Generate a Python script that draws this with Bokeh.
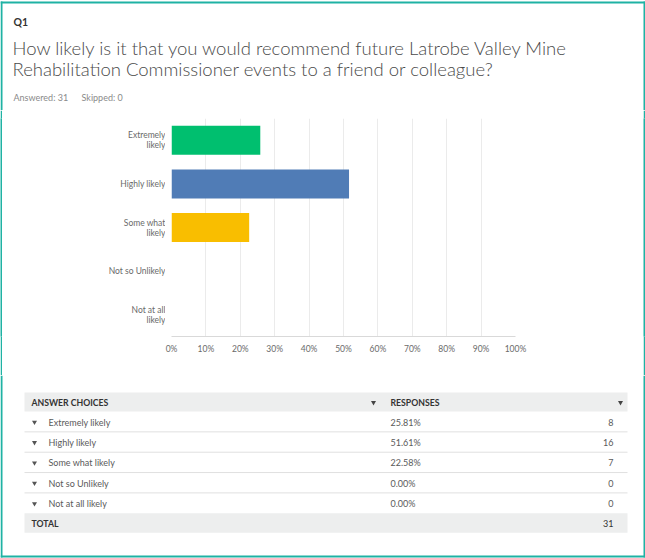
from bokeh.plotting import figure
from bokeh.layouts import column, row
from bokeh.models import (FactorRange, Range1d, FixedTicker, PrintfTickFormatter,
                          ColumnDataSource, Grid)
from bokeh.core.properties import value
from bokeh.embed import file_html
from bokeh.resources import INLINE

# ---------------- data ----------------
question_no = "Q1"
title_lines = ["How likely is it that you would recommend future Latrobe Valley Mine",
               "Rehabilitation Commissioner events to a friend or colleague?"]
answered = 31
skipped = 0
categories = ["Extremely likely", "Highly likely", "Some what likely",
              "Not so Unlikely", "Not at all likely"]
axis_label_lines = [["Extremely", "likely"], ["Highly likely"], ["Some what", "likely"],
                    ["Not so Unlikely"], ["Not at all", "likely"]]
percents = [25.81, 51.61, 22.58, 0.00, 0.00]
counts = [8, 16, 7, 0, 0]
total = 31
bar_colors = ["#00bf6f", "#507cb6", "#f9be00", "#6bc8cd", "#ff8b4f"]
x_ticks = [0, 10, 20, 30, 40, 50, 60, 70, 80, 90, 100]

FONT = "Lato"
TITLE_FONT = "'Lato Light', Lato"
TEAL = "#1fb2a4"


def canvas(w, h, x0, y0):
    """Figure whose data coordinates are page pixels (y downward)."""
    f = figure(width=w, height=h, x_range=Range1d(x0, x0 + w),
               y_range=Range1d(y0 + h, y0), output_backend="svg",
               toolbar_location=None, min_border=0, title=None,
               x_axis_location=None, y_axis_location=None)
    f.outline_line_color = None
    f.grid.visible = False
    f.background_fill_color = "white"
    f.border_fill_color = "white"
    return f


def put_text(f, xs, ys, texts, size, color, align="left", style="normal", font=FONT):
    f.text(x=xs, y=ys, text=texts, text_font=value(font),
           text_font_size=value(f"{size}px"), text_color=color,
           text_align=align, text_baseline="middle", text_font_style=style)


# ---------------- header ----------------
head = canvas(645, 110, 0, 0)
head.quad(left=[0, 643, 0], right=[2, 645, 645], top=[1, 1, 1], bottom=[110, 110, 3],
          color=TEAL, line_color=None)
put_text(head, [13], [21], [question_no], 10.5, "#333333", style="bold")
put_text(head, [12, 12], [47, 68], title_lines, 18.5, "#4a4a4a", font=TITLE_FONT)
put_text(head, [13], [97], [f"Answered: {answered}"], 9, "#8a8a8a")
put_text(head, [81], [97], [f"Skipped: {skipped}"], 9, "#8a8a8a")

# ---------------- chart row ----------------
y_rng = FactorRange(factors=categories[::-1])

chart = figure(width=478, height=265, x_range=Range1d(0, 100), y_range=y_rng,
               output_backend="svg", toolbar_location=None, title=None,
               y_axis_location=None,
               min_border_left=6, min_border_right=128,
               min_border_top=8, min_border_bottom=39)
chart.outline_line_color = None
chart.background_fill_color = "white"
chart.border_fill_color = "white"

src = ColumnDataSource(dict(cat=categories, pct=percents, color=bar_colors))
chart.hbar(y="cat", left=0, right="pct", height=0.665, fill_color="color",
           line_color=None, source=src)

chart.xaxis.ticker = FixedTicker(ticks=x_ticks)
chart.xaxis.formatter = PrintfTickFormatter(format="%d%%")
chart.xaxis.axis_line_color = "#d9d9d9"
chart.xaxis.major_tick_line_color = None
chart.xaxis.minor_tick_line_color = None
chart.xaxis.major_tick_out = 0
chart.xaxis.major_tick_in = 0
chart.xaxis.major_label_standoff = 7
chart.xaxis.major_label_text_font = FONT
chart.xaxis.major_label_text_font_size = "8.5px"
chart.xaxis.major_label_text_color = "#6a6a6a"
chart.xgrid.ticker = FixedTicker(ticks=x_ticks)
chart.xgrid.grid_line_color = "#ebebeb"
chart.ygrid.visible = False
chart.add_layout(Grid(dimension=0, ticker=FixedTicker(ticks=[0]),
                      grid_line_color="#cccccc"))

# category labels, sharing the chart's categorical range
lab = figure(width=163, height=265, x_range=Range1d(2, 165), y_range=y_rng,
             output_backend="svg", toolbar_location=None, title=None,
             x_axis_location=None, y_axis_location=None,
             min_border_left=0, min_border_right=0,
             min_border_top=8, min_border_bottom=39)
lab.outline_line_color = None
lab.grid.visible = False
lab.background_fill_color = "white"
lab.border_fill_color = "white"
lab_y, lab_t, lab_off = [], [], []
for c, lines in zip(categories, axis_label_lines):
    n = len(lines)
    for k, ln in enumerate(lines):
        lab_y.append(c)
        lab_t.append(ln)
        lab_off.append((k - (n - 1) / 2) * 10)
lab.text(x=165, y="y", text="t", y_offset="off",
         source=ColumnDataSource(dict(y=lab_y, t=lab_t, off=lab_off)),
         text_font=value(FONT), text_font_size=value("8.5px"),
         text_color="#6a6a6a", text_align="right", text_baseline="middle")


def strip():
    """2px card-border strip beside the chart (solid teal)."""
    s = figure(width=2, height=265, output_backend="svg", toolbar_location=None,
               title=None, x_axis_location=None, y_axis_location=None,
               min_border=0)
    s.outline_line_color = None
    s.grid.visible = False
    s.background_fill_color = TEAL
    s.border_fill_color = TEAL
    return s


bl = strip()
br = strip()

# ---------------- table ----------------
tbl = canvas(645, 183, 0, 375)
tbl.quad(left=[0, 643, 0], right=[2, 645, 645], top=[375, 375, 555],
         bottom=[557, 557, 557], color=TEAL, line_color=None)

head_top, head_bot = 392, 411
row_h = 20.35
n_rows = len(categories)
tot_top = head_bot + n_rows * row_h

tbl.quad(left=[24, 24], right=[627, 627], top=[head_top, tot_top],
         bottom=[head_bot, tot_top + 19.5], color="#edeeee", line_color=None)
sep_y = [head_bot + i * row_h for i in range(1, n_rows)]
tbl.segment(x0=24, x1=627, y0=sep_y, y1=sep_y, line_color="#e0e0e0", line_width=1)

hmid = (head_top + head_bot) / 2 + 0.5
put_text(tbl, [31, 390], [hmid, hmid], ["ANSWER CHOICES", "RESPONSES"], 8.7,
         "#333333", style="bold")
tbl.scatter(x=[373, 620], y=[hmid, hmid], marker="inverted_triangle", size=5,
            color="#444444", line_color=None)

mids = [head_bot + i * row_h + row_h / 2 + 0.5 for i in range(n_rows)]
tbl.scatter(x=[34] * n_rows, y=mids, marker="inverted_triangle", size=5,
            color="#555555", line_color=None)
put_text(tbl, [48] * n_rows, mids, categories, 9, "#5a5a5a")
put_text(tbl, [390] * n_rows, mids, [f"{v:.2f}%" for v in percents], 9, "#5a5a5a")
put_text(tbl, [613] * n_rows, mids, [str(v) for v in counts], 9, "#5a5a5a",
         align="right")

tmid = tot_top + 10
put_text(tbl, [31], [tmid], ["TOTAL"], 8.7, "#333333", style="bold")
put_text(tbl, [613], [tmid], [str(total)], 9, "#333333", align="right")

layout = column(head, row(bl, lab, chart, br, spacing=0), tbl, spacing=0)

open("out.html", "w").write(file_html(layout, INLINE))
